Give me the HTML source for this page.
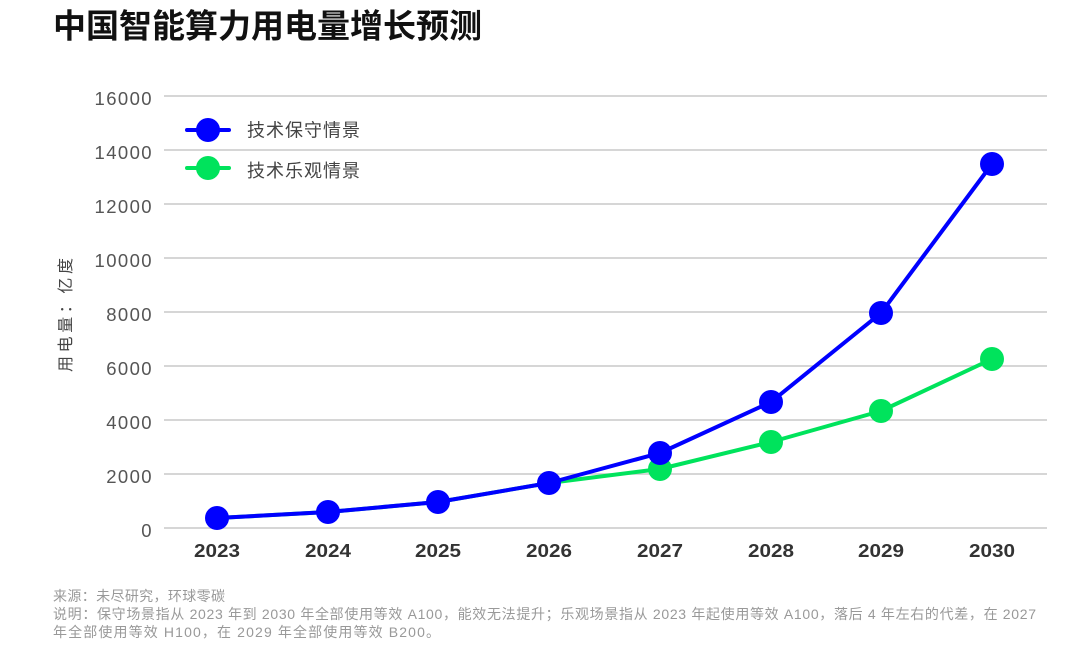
<!DOCTYPE html>
<html>
<head>
<meta charset="utf-8">
<style>
  html, body { margin: 0; padding: 0; background: #ffffff; }
  body { width: 1080px; height: 656px; overflow: hidden; }
  svg { display: block; }
  .cjk { font-family: "Liberation Sans", "Noto Sans CJK SC", sans-serif; }
  .num { font-family: "Liberation Sans", sans-serif; }
</style>
</head>
<body>
<svg width="1080" height="656" viewBox="0 0 1080 656" xmlns="http://www.w3.org/2000/svg">
  <rect x="0" y="0" width="1080" height="656" fill="#ffffff"/>

  <!-- Title -->
  <text x="53" y="37.5" class="cjk" font-size="33" font-weight="700" fill="#111111" textLength="429" lengthAdjust="spacingAndGlyphs">中国智能算力用电量增长预测</text>

  <!-- Gridlines -->
  <g stroke="#c8c8c8" stroke-width="1.6">
    <line x1="164" y1="96" x2="1047" y2="96"/>
    <line x1="164" y1="150" x2="1047" y2="150"/>
    <line x1="164" y1="204" x2="1047" y2="204"/>
    <line x1="164" y1="258" x2="1047" y2="258"/>
    <line x1="164" y1="312" x2="1047" y2="312"/>
    <line x1="164" y1="366" x2="1047" y2="366"/>
    <line x1="164" y1="420" x2="1047" y2="420"/>
    <line x1="164" y1="474" x2="1047" y2="474"/>
    <line x1="164" y1="528" x2="1047" y2="528"/>
  </g>

  <!-- Y tick labels -->
  <g class="num" font-size="18.5" fill="#555555" text-anchor="end" letter-spacing="1.4">
    <text x="153" y="105">16000</text>
    <text x="153" y="159">14000</text>
    <text x="153" y="213">12000</text>
    <text x="153" y="267">10000</text>
    <text x="153" y="321">8000</text>
    <text x="153" y="375">6000</text>
    <text x="153" y="429">4000</text>
    <text x="153" y="483">2000</text>
    <text x="153" y="537">0</text>
  </g>

  <!-- Y axis title -->
  <text transform="translate(71,315) rotate(-90)" class="cjk" font-size="16" fill="#444444" text-anchor="middle" textLength="114" lengthAdjust="spacing">用电量：亿度</text>

  <!-- X tick labels -->
  <g class="num" font-size="18" font-weight="700" fill="#333333" text-anchor="middle">
    <text x="217" y="557" textLength="46" lengthAdjust="spacingAndGlyphs">2023</text>
    <text x="328" y="557" textLength="46" lengthAdjust="spacingAndGlyphs">2024</text>
    <text x="438" y="557" textLength="46" lengthAdjust="spacingAndGlyphs">2025</text>
    <text x="549" y="557" textLength="46" lengthAdjust="spacingAndGlyphs">2026</text>
    <text x="660" y="557" textLength="46" lengthAdjust="spacingAndGlyphs">2027</text>
    <text x="771" y="557" textLength="46" lengthAdjust="spacingAndGlyphs">2028</text>
    <text x="881" y="557" textLength="46" lengthAdjust="spacingAndGlyphs">2029</text>
    <text x="992" y="557" textLength="46" lengthAdjust="spacingAndGlyphs">2030</text>
  </g>

  <!-- Green series (optimistic) -->
  <polyline fill="none" stroke="#00e35c" stroke-width="4" stroke-linejoin="round"
    points="217,518 328,512 438,502 549,483 660,469 771,442 881,411 992,359"/>
  <g fill="#00e35c">
    <circle cx="660" cy="469" r="12"/>
    <circle cx="771" cy="442" r="12"/>
    <circle cx="881" cy="411" r="12"/>
    <circle cx="992" cy="359" r="12"/>
  </g>

  <!-- Blue series (conservative) -->
  <polyline fill="none" stroke="#0000ff" stroke-width="4" stroke-linejoin="round"
    points="217,518 328,512 438,502 549,483 660,453 771,402 881,313 992,164"/>
  <g fill="#0000ff">
    <circle cx="217" cy="518" r="12"/>
    <circle cx="328" cy="512" r="12"/>
    <circle cx="438" cy="502" r="12"/>
    <circle cx="549" cy="483" r="12"/>
    <circle cx="660" cy="453" r="12"/>
    <circle cx="771" cy="402" r="12"/>
    <circle cx="881" cy="313" r="12"/>
    <circle cx="992" cy="164" r="12"/>
  </g>

  <!-- Legend -->
  <line x1="187" y1="130" x2="229" y2="130" stroke="#0000ff" stroke-width="4" stroke-linecap="round"/>
  <circle cx="208" cy="130" r="12" fill="#0000ff"/>
  <text x="247" y="136.5" class="cjk" font-size="18" fill="#444444" textLength="113" lengthAdjust="spacing">技术保守情景</text>

  <line x1="187" y1="168" x2="229" y2="168" stroke="#00e35c" stroke-width="4" stroke-linecap="round"/>
  <circle cx="208" cy="168" r="12" fill="#00e35c"/>
  <text x="247" y="177" class="cjk" font-size="18" fill="#444444" textLength="113" lengthAdjust="spacing">技术乐观情景</text>

  <!-- Footer notes -->
  <g class="cjk" font-size="14" fill="#999999">
    <text x="53" y="601" textLength="172" lengthAdjust="spacing">来源：未尽研究，环球零碳</text>
    <text x="53" y="619" textLength="983" lengthAdjust="spacing">说明：保守场景指从 2023 年到 2030 年全部使用等效 A100，能效无法提升；乐观场景指从 2023 年起使用等效 A100，落后 4 年左右的代差，在 2027</text>
    <text x="53" y="637" textLength="387" lengthAdjust="spacing">年全部使用等效 H100，在 2029 年全部使用等效 B200。</text>
  </g>
</svg>
</body>
</html>
